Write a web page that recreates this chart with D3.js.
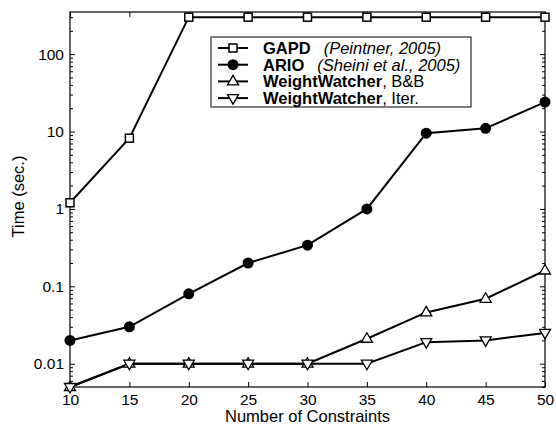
<!DOCTYPE html>
<html>
<head>
<meta charset="utf-8">
<script src="https://cdn.jsdelivr.net/npm/d3@7"></script>
<style>
  body { margin: 0; background: #fff; }
  text { font-family: "Liberation Sans", Arial, sans-serif; fill: #000; }
</style>
</head>
<body>
<div id="chart"></div>
<script>
// data
const constraints = [10, 15, 20, 25, 30, 35, 40, 45, 50];
const gapd = [1.2, 8.2, 300, 300, 300, 300, 300, 300, 300];
const ario = [0.02, 0.03, 0.08, 0.2, 0.34, 1.0, 9.5, 11, 24];
const wwBB = [0.005, 0.01, 0.01, 0.01, 0.01, 0.021, 0.046, 0.069, 0.16];
const wwIter = [0.005, 0.01, 0.01, 0.01, 0.01, 0.01, 0.019, 0.02, 0.025];
const yTicks = [0.01, 0.1, 1, 10, 100];
const yTickLabels = ["0.01", "0.1", "1", "10", "100"];

const series = [
  {name: "GAPD", note: "(Peintner, 2005)", italic: true, values: gapd, marker: "square"},
  {name: "ARIO", note: "(Sheini et al., 2005)", italic: true, values: ario, marker: "circle"},
  {name: "WeightWatcher", note: ", B&B", italic: false, values: wwBB, marker: "up"},
  {name: "WeightWatcher", note: ", Iter.", italic: false, values: wwIter, marker: "down"}
];

let svgWidth = 556, svgHeight = 426;
let margin = {top: 12, right: 11, bottom: 39, left: 70};
let chartWidth = svgWidth - margin.left - margin.right;
let chartHeight = svgHeight - margin.top - margin.bottom;

let svg = d3.select("#chart").append("svg")
  .attr("width", svgWidth)
  .attr("height", svgHeight);

let chartGroup = svg.append("g")
  .attr("transform", `translate(${margin.left}, ${margin.top})`);

let xScale = d3.scaleLinear().domain([10, 50]).range([0, chartWidth]);
let yScale = d3.scaleLog().domain([0.005, 350]).range([chartHeight, 0]);

// minor ticks on the log axis
let minor = [];
[0.001, 0.01, 0.1, 1, 10, 100].forEach(d => {
  for (let k = 2; k <= 9; k++) {
    let v = d * k;
    if (v >= 0.005 && v <= 350) minor.push(v);
  }
});

function axisStyle(g) {
  g.select(".domain").remove();
  g.selectAll("line").attr("stroke", "#000").attr("stroke-width", 1);
  g.selectAll("text").attr("fill", "#000").style("font-size", "15.5px");
}

// bottom axis, ticks pointing in
chartGroup.append("g")
  .attr("transform", `translate(0, ${chartHeight})`)
  .call(d3.axisBottom(xScale).tickValues(constraints).tickSizeInner(-5).tickSizeOuter(0).tickPadding(7))
  .call(axisStyle);
chartGroup.append("g")
  .call(d3.axisTop(xScale).tickValues(constraints).tickSizeInner(-5).tickSizeOuter(0).tickFormat(""))
  .call(axisStyle);

// left axis
chartGroup.append("g")
  .call(d3.axisLeft(yScale).tickValues(yTicks).tickSizeInner(-5).tickSizeOuter(0).tickPadding(6)
    .tickFormat((d, i) => yTickLabels[i]))
  .call(axisStyle);
chartGroup.append("g")
  .call(d3.axisLeft(yScale).tickValues(minor).tickSizeInner(-3).tickSizeOuter(0).tickFormat(""))
  .call(axisStyle);
// right axis
chartGroup.append("g")
  .attr("transform", `translate(${chartWidth}, 0)`)
  .call(d3.axisRight(yScale).tickValues(yTicks).tickSizeInner(-5).tickSizeOuter(0).tickFormat(""))
  .call(axisStyle);
chartGroup.append("g")
  .attr("transform", `translate(${chartWidth}, 0)`)
  .call(d3.axisRight(yScale).tickValues(minor).tickSizeInner(-3).tickSizeOuter(0).tickFormat(""))
  .call(axisStyle);

// frame
chartGroup.append("rect")
  .attr("width", chartWidth)
  .attr("height", chartHeight)
  .attr("fill", "none")
  .attr("stroke", "#000")
  .attr("stroke-width", 1.2);

// marker drawing
function drawMarker(sel, type) {
  if (type === "square") {
    sel.append("rect").attr("x", -4).attr("y", -4).attr("width", 8).attr("height", 8)
      .attr("fill", "#fff").attr("stroke", "#000").attr("stroke-width", 1.5);
  } else if (type === "circle") {
    sel.append("circle").attr("r", 5.5).attr("fill", "#000");
  } else if (type === "up") {
    sel.append("path").attr("d", "M0,-6L5.5,3.5L-5.5,3.5Z")
      .attr("fill", "#fff").attr("stroke", "#000").attr("stroke-width", 1.3);
  } else {
    sel.append("path").attr("d", "M0,6L5.5,-3.5L-5.5,-3.5Z")
      .attr("fill", "#fff").attr("stroke", "#000").attr("stroke-width", 1.3);
  }
}

let line = d3.line()
  .x((d, i) => xScale(constraints[i]))
  .y(d => yScale(d));

series.forEach(s => {
  chartGroup.append("path")
    .datum(s.values)
    .attr("d", line)
    .attr("fill", "none")
    .attr("stroke", "#000")
    .attr("stroke-width", 2);
});

series.forEach(s => {
  chartGroup.selectAll(null)
    .data(s.values)
    .enter()
    .append("g")
    .attr("transform", (d, i) => `translate(${xScale(constraints[i])}, ${yScale(d)})`)
    .each(function() { drawMarker(d3.select(this), s.marker); });
});

// legend
let legend = svg.append("g").attr("transform", "translate(211, 37)");
legend.append("rect")
  .attr("width", 260).attr("height", 70)
  .attr("fill", "#fff").attr("stroke", "#000").attr("stroke-width", 1);

series.forEach((s, i) => {
  let row = legend.append("g").attr("transform", `translate(0, ${11 + i * 16.7})`);
  row.append("line").attr("x1", 7).attr("x2", 37).attr("stroke", "#000").attr("stroke-width", 2);
  drawMarker(row.append("g").attr("transform", "translate(22, 0)"), s.marker);
  let t = row.append("text").attr("x", 52).attr("dy", "0.36em").attr("fill", "#000").style("font-size", "16.5px");
  t.append("tspan").style("font-weight", "bold").text(s.name);
  t.append("tspan").attr("dx", s.italic ? 13 : 0)
    .style("font-style", s.italic ? "italic" : "normal").text(s.note);
});

// axis labels
svg.append("text")
  .attr("transform", `translate(${margin.left + chartWidth / 2}, 422)`)
  .attr("text-anchor", "middle")
  .attr("fill", "#000")
  .style("font-size", "16.5px")
  .text("Number of Constraints");

svg.append("text")
  .attr("transform", `translate(24, ${margin.top + chartHeight / 2 - 3}) rotate(-90)`)
  .attr("text-anchor", "middle")
  .attr("fill", "#000")
  .style("font-size", "16.5px")
  .text("Time (sec.)");
</script>
</body>
</html>
